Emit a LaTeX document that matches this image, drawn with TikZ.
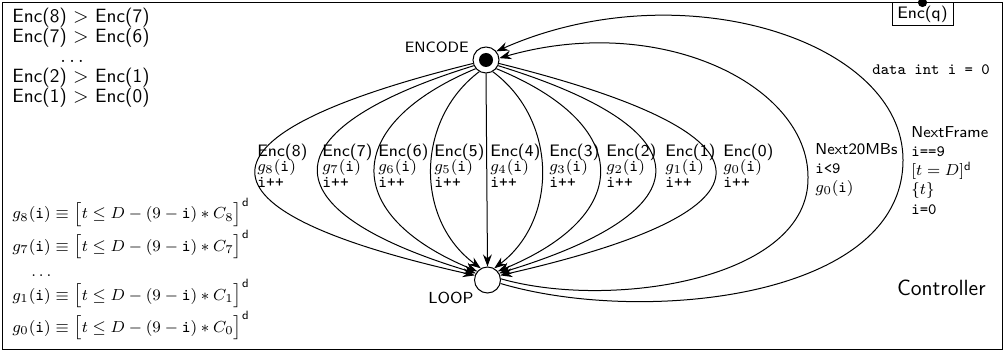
\documentclass[tikz,border=0pt]{standalone}
\usetikzlibrary{arrows.meta}
\newcommand{\elab}[1]{\textsf{Enc(#1)}\\$g_{#1}(\texttt{i})$\\[0.4pt]\texttt{i++}}
\newcommand{\gform}[1]{$g_{#1}(\texttt{i}) \equiv \bigl[t \le D - (9 - \texttt{i}) * C_{#1}\bigr]^{\mathsf{d}}$}
\begin{document}
\begin{tikzpicture}[x=0.5pt,y=-0.5pt,
  base/.style={font=\fontsize{8.3}{9.2}\selectfont, inner sep=0pt},
  loc/.style={draw, circle, minimum size=13pt, inner sep=0pt, line width=0.5pt},
  edge/.style={line width=0.5pt, -{Stealth[length=6pt,width=4.4pt]}},
  elabel/.style={font=\fontsize{8.3}{7.4}\selectfont, execute at begin node={\lineskiplimit=-20pt}, align=left, inner sep=0pt, anchor=north west},
  glabel/.style={font=\fontsize{7.9}{9.6}\selectfont, execute at begin node={\lineskiplimit=-20pt}, align=left, inner sep=0pt, anchor=north west},
]
\useasboundingbox (0,0) rectangle (1005,352);
\draw[line width=0.6pt] (2.5,2.5) rectangle (1002.5,349.5);

% locations
\node[loc] (enc) at (486,60) {};
\fill (enc.center) circle[radius=3.5pt];
\node[loc] (loop) at (487.5,280) {};
\node[font=\fontsize{7.5}{9}\selectfont\sffamily, inner sep=0pt, anchor=base east] (encname) at (469,53) {ENCODE};
\node[font=\fontsize{8}{9}\selectfont\sffamily, inner sep=0pt, anchor=base east] (loopname) at (474,303) {LOOP};
\node[font=\fontsize{11}{13}\selectfont\sffamily, inner sep=0pt, anchor=base east] (ctrl) at (986,295) {Controller};
\node[font=\fontsize{7.9}{9}\selectfont\ttfamily, inner sep=0pt, anchor=base west] (data) at (872,75) {data int i = 0};

% Enc(q)
\node[draw, base, line width=0.5pt, minimum width=30.5pt, minimum height=11.5pt, anchor=north] (encq) at (922.5,2.5) {\sffamily Enc(q)};
\fill (encq.north) circle[radius=2.3pt];

% top-left order
\node[font=\fontsize{9.6}{10}\selectfont, inner sep=0pt, align=left, anchor=north west] (order) at (12,8) {%
\textsf{Enc(8)} $>$ \textsf{Enc(7)}\\
\textsf{Enc(7)} $>$ \textsf{Enc(6)}\\
\hspace*{24pt}$\dots$\\
\textsf{Enc(2)} $>$ \textsf{Enc(1)}\\
\textsf{Enc(1)} $>$ \textsf{Enc(0)}};

% bottom-left guards
\node[base, anchor=base west] (gf8) at (12,219) {\gform{8}};
\node[base, anchor=base west] (gf7) at (12,251) {\gform{7}};
\node[base, anchor=base west] (gdots) at (31,276) {$\dots$};
\node[base, anchor=base west] (gf1) at (12,300) {\gform{1}};
\node[base, anchor=base west] (gf0) at (12,332) {\gform{0}};

% Enc edges
\draw[edge] (enc.195) .. controls (183,135) and (183,210) .. (loop.160);
\draw[edge] (enc.205) .. controls (266,130) and (266,210) .. (loop.150);
\draw[edge] (enc.220) .. controls (341,125) and (341,215) .. (loop.140);
\draw[edge] (enc.240) .. controls (415,120) and (415,220) .. (loop.120);
\draw[edge] (enc.south) -- (loop.north);
\draw[edge] (enc.300) .. controls (558,120) and (558,220) .. (loop.60);
\draw[edge] (enc.320) .. controls (634,125) and (634,215) .. (loop.40);
\draw[edge] (enc.335) .. controls (707,130) and (707,210) .. (loop.30);
\draw[edge] (enc.345) .. controls (787,135) and (787,210) .. (loop.20);

\node[elabel] (l8) at (257,144) {\elab{8}};
\node[elabel] (l7) at (322,144) {\elab{7}};
\node[elabel] (l6) at (378,144) {\elab{6}};
\node[elabel] (l5) at (434,144) {\elab{5}};
\node[elabel] (l4) at (490,144) {\elab{4}};
\node[elabel] (l3) at (549,144) {\elab{3}};
\node[elabel] (l2) at (606,144) {\elab{2}};
\node[elabel] (l1) at (665,144) {\elab{1}};
\node[elabel] (l0) at (723,144) {\elab{0}};

% back edges
\coordinate (v1) at (808,177);
\coordinate (v2) at (903,160);
\draw[edge] (loop.5) .. controls (610,310) and (810,280) .. (v1) .. controls (808,85) and (660,12) .. (enc.8);
\draw[edge] (loop.-15) .. controls (640,325) and (903,300) .. (v2) .. controls (903,40) and (680,-30) .. (enc.40);

\node[glabel] (ln20) at (815,143) {\textsf{Next20MBs}\\\texttt{i<9}\\$g_0(\texttt{i})$};
\node[glabel] (lnf) at (911,126) {\textsf{NextFrame}\\\texttt{i==9}\\$[t = D]^{\mathsf{d}}$\\$\{t\}$\\\texttt{i=0}};
\end{tikzpicture}
\end{document}
